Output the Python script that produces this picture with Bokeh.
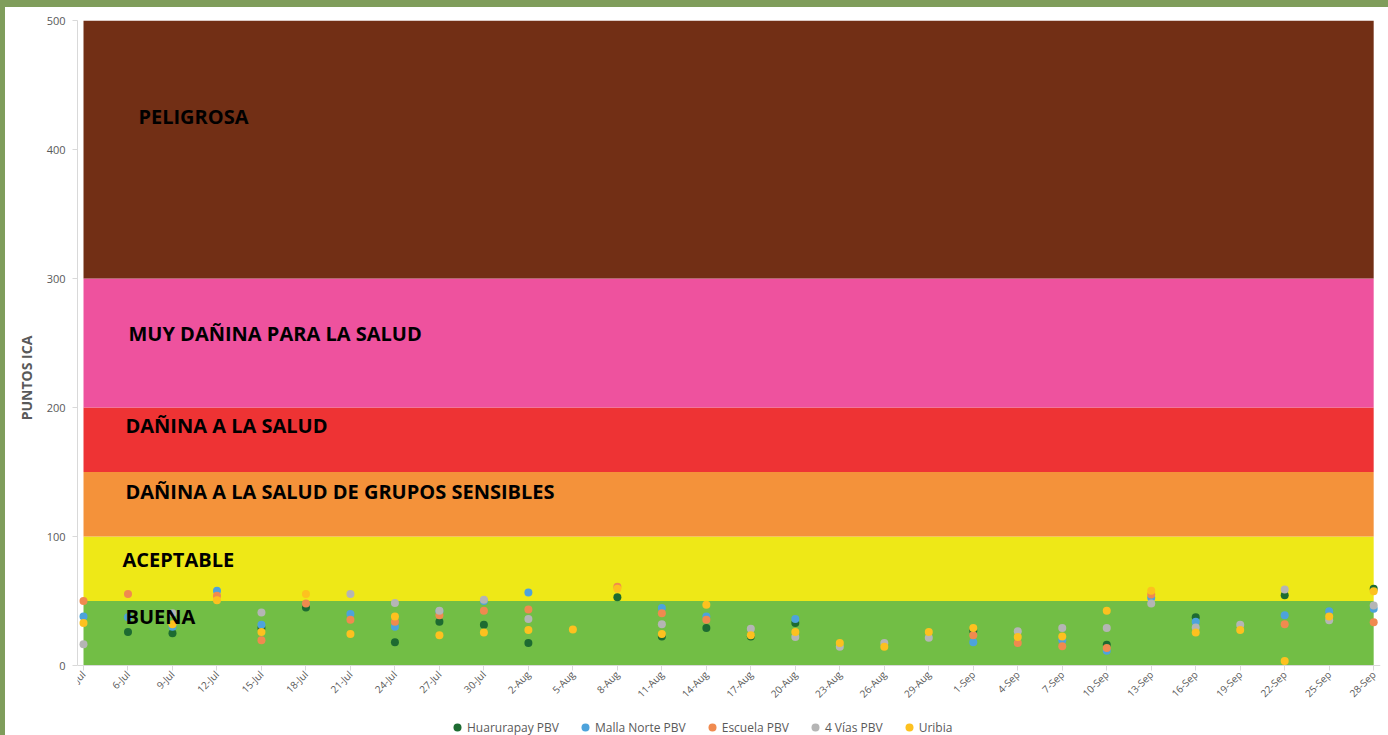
import math
from datetime import datetime

from bokeh.plotting import figure
from bokeh.models import Range1d, FixedTicker, Legend, LegendItem, Label
from bokeh.embed import file_html
from bokeh.resources import INLINE

# ---------------- data ----------------
date_labels = ["3-Jul", "6-Jul", "9-Jul", "12-Jul", "15-Jul", "18-Jul", "21-Jul",
               "24-Jul", "27-Jul", "30-Jul", "2-Aug", "5-Aug", "8-Aug", "11-Aug",
               "14-Aug", "17-Aug", "20-Aug", "23-Aug", "26-Aug", "29-Aug", "1-Sep",
               "4-Sep", "7-Sep", "10-Sep", "13-Sep", "16-Sep", "19-Sep", "22-Sep",
               "25-Sep", "28-Sep"]

N = None
huarurapay = [N, 26, 25, N, 29, 45, N, 18, 34, 31.5, 17.5, N, 53, 22.5, 29,
              22.5, 33, N, N, N, 27, N, N, 16, N, 37.5, N, 54.5, N, 59.5]
malla_norte = [38, 37.5, 30, 58, 31.5, N, 40, 30, 42, 50, 56.5, N, N, 44.5, 38,
               N, 36, N, N, N, 18, N, 19.5, 11.5, 52.5, 34, N, 39, 42, 44]
escuela = [50, 55.5, N, 54, 19.5, 48, 35.5, 34, 39, 42.5, 43.5, N, 61, 40.5, 35.5,
           N, N, N, N, N, 23.5, 17.5, 15, 13.5, 55, N, N, 32, N, 33.5]
cuatro_vias = [16.5, N, 40.5, N, 41, N, 55.5, 48.5, 42.5, 51, 36, N, N, 32, N,
               28.5, 22, 14.5, 17.5, 21.5, N, 26.5, 29, 29, 48, 29.5, 31.5, 59, 35, 46.5]
uribia = [33, N, 32, 50.5, 26, 55.5, 24.5, 38, 23.5, 25.5, 27.5, 28, 59.5, 24.5, 47,
          23.5, 26, 17.5, 14.5, 26, 29, 22, 22.5, 42.5, 58, 25.5, 27.5, 3.5, 38, 57.5]

series_names = ["Huarurapay PBV", "Malla Norte PBV", "Escuela PBV", "4 Vías PBV", "Uribia"]
series_values = [huarurapay, malla_norte, escuela, cuatro_vias, uribia]

band_bottom = [0, 50, 100, 150, 200, 300]
band_top = [50, 100, 150, 200, 300, 500]
band_names = ["BUENA", "ACEPTABLE", "DAÑINA A LA SALUD DE GRUPOS SENSIBLES",
              "DAÑINA A LA SALUD", "MUY DAÑINA PARA LA SALUD", "PELIGROSA"]

y_ticks = [0, 100, 200, 300, 400, 500]

# ---------------- styles / layout ----------------
series_colors = ["#1D6B31", "#4DA3DC", "#F08A4F", "#B5B5B5", "#FDC11F"]
band_colors = ["#72BE45", "#EEE817", "#F4923A", "#EE3334", "#EE529E", "#722F15"]
band_label_x = [2.83, 2.63, 2.83, 2.83, 3.03, 3.7]
band_label_y = [38.0, 82.2, 134.9, 186.0, 257.4, 425.6]
FONT = "Open Sans"
GREY = "#595959"
AXIS_GREY = "#D9D9D9"
FRAME_GREEN = "#7F9D5B"
Y_PAD_BELOW = -54.26   # white room under 0 for date labels and legend

ref = datetime.strptime(date_labels[0] + "-2001", "%d-%b-%Y")
days = [(datetime.strptime(d + "-2001", "%d-%b-%Y") - ref).days for d in date_labels]

p = figure(width=1388, height=735, output_backend="svg", toolbar_location=None,
           x_range=Range1d(-0.405, 87.46), y_range=Range1d(Y_PAD_BELOW, 500),
           min_border_left=77, min_border_right=8, min_border_top=20,
           min_border_bottom=0)
p.outline_line_color = None
p.background_fill_color = "white"
p.border_fill_color = "white"
p.border_fill_alpha = 0
p.grid.visible = False
# thin green page frame along the top and left edges
p.styles = {"background-color": "white",
            "box-shadow": "inset 5px 7px 0 0 " + FRAME_GREEN}

# bands
p.quad(left=days[0], right=days[-1], bottom=band_bottom, top=band_top,
       fill_color=band_colors, line_color=None)

for name, bx, by in zip(band_names, band_label_x, band_label_y):
    p.add_layout(Label(x=bx, y=by, text=name, text_font=FONT, text_font_size="20px",
                       text_font_style="bold", text_color="black",
                       text_baseline="middle", text_align="left"))

# series
items = []
for name, vals, col in zip(series_names, series_values, series_colors):
    yv = [float("nan") if v is None else v for v in vals]
    r = p.scatter(days, yv, size=8, fill_color=col, line_color=None)
    items.append(LegendItem(label=name, renderers=[r]))

legend = Legend(items=items, orientation="horizontal", location=(370, -2),
                label_text_font=FONT, label_text_font_size="12px",
                label_text_color=GREY, glyph_width=20, glyph_height=20,
                label_standoff=0, spacing=16, border_line_color=None,
                background_fill_alpha=0, padding=0, margin=0,
                label_height=12, label_text_baseline="middle")
p.add_layout(legend)

# axes
p.xaxis.fixed_location = 0
p.xaxis.ticker = FixedTicker(ticks=days)
p.xaxis.major_label_overrides = {d: lbl for d, lbl in zip(days, date_labels)}
p.xaxis.major_label_orientation = math.pi / 4
p.yaxis.ticker = FixedTicker(ticks=y_ticks)
p.yaxis.bounds = (0, 500)
p.yaxis.axis_label = "PUNTOS ICA"
p.yaxis.axis_label_text_font = FONT
p.yaxis.axis_label_text_font_size = "14px"
p.yaxis.axis_label_text_font_style = "bold"
p.yaxis.axis_label_text_color = GREY
p.yaxis.axis_label_standoff = 8
for ax in (p.xaxis, p.yaxis):
    ax.axis_line_color = AXIS_GREY
    ax.major_tick_line_color = AXIS_GREY
    ax.major_tick_out = 5
    ax.major_tick_in = 0
    ax.minor_tick_line_color = None
    ax.major_label_text_font = FONT
    ax.major_label_text_color = GREY
p.xaxis.major_label_text_font_size = "10px"
p.yaxis.major_label_text_font_size = "11px"
p.yaxis.major_label_standoff = 7
p.xaxis.major_label_standoff = 2

open("out.html", "w").write(file_html(p, INLINE))
